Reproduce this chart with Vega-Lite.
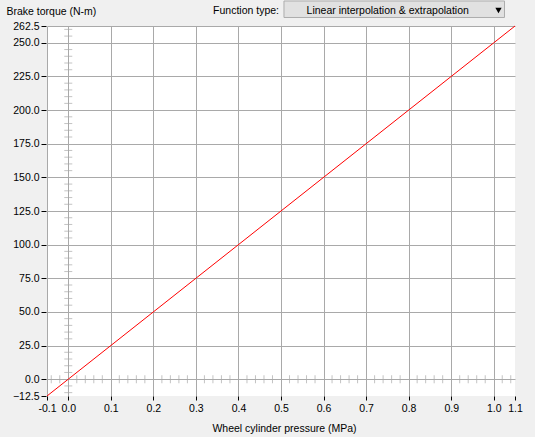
{
  "$schema": "https://vega.github.io/schema/vega-lite/v6.json",
  "width": 468,
  "height": 370,
  "autosize": {"type": "none"},
  "padding": {"left": 47, "top": 26, "right": 20, "bottom": 41},
  "background": "#f0f0f0",
  "config": {
    "view": {"fill": "white", "stroke": null},
    "font": "Liberation Sans",
    "axis": {
      "labelFont": "Liberation Sans",
      "labelFontSize": 10.5,
      "labelColor": "#000000",
      "titleFont": "Liberation Sans",
      "titleFontSize": 10.5,
      "titleFontWeight": "normal",
      "titleColor": "#000000",
      "tickColor": "#000000",
      "gridColor": "#a9a9a9",
      "domain": false,
      "labelFlush": false,
      "labelOverlap": false
    }
  },
  "resolve": {"axis": {"x": "independent", "y": "independent"}},
  "datasets": {
    "line": [
      {"P": -0.05, "T": -12.5},
      {"P": 0.0, "T": 0.0},
      {"P": 1.0, "T": 250.0},
      {"P": 1.05, "T": 262.5}
    ],
    "yminor": [
      {"v": -10}, {"v": -5}, {"v": 5}, {"v": 10}, {"v": 15}, {"v": 20},
      {"v": 30}, {"v": 35}, {"v": 40}, {"v": 45},
      {"v": 55}, {"v": 60}, {"v": 65}, {"v": 70},
      {"v": 80}, {"v": 85}, {"v": 90}, {"v": 95},
      {"v": 105}, {"v": 110}, {"v": 115}, {"v": 120},
      {"v": 130}, {"v": 135}, {"v": 140}, {"v": 145},
      {"v": 155}, {"v": 160}, {"v": 165}, {"v": 170},
      {"v": 180}, {"v": 185}, {"v": 190}, {"v": 195},
      {"v": 205}, {"v": 210}, {"v": 215}, {"v": 220},
      {"v": 230}, {"v": 235}, {"v": 240}, {"v": 245},
      {"v": 255}, {"v": 260}
    ],
    "xminor": [
      {"v": -0.04}, {"v": -0.02}, {"v": 0.02}, {"v": 0.04}, {"v": 0.06}, {"v": 0.08},
      {"v": 0.12}, {"v": 0.14}, {"v": 0.16}, {"v": 0.18},
      {"v": 0.22}, {"v": 0.24}, {"v": 0.26}, {"v": 0.28},
      {"v": 0.32}, {"v": 0.34}, {"v": 0.36}, {"v": 0.38},
      {"v": 0.42}, {"v": 0.44}, {"v": 0.46}, {"v": 0.48},
      {"v": 0.52}, {"v": 0.54}, {"v": 0.56}, {"v": 0.58},
      {"v": 0.62}, {"v": 0.64}, {"v": 0.66}, {"v": 0.68},
      {"v": 0.72}, {"v": 0.74}, {"v": 0.76}, {"v": 0.78},
      {"v": 0.82}, {"v": 0.84}, {"v": 0.86}, {"v": 0.88},
      {"v": 0.92}, {"v": 0.94}, {"v": 0.96}, {"v": 0.98},
      {"v": 1.02}, {"v": 1.04}
    ],
    "header": [{"label": "Function type:", "choice": "Linear interpolation & extrapolation"}]
  },
  "layer": [
    {
      "data": {"name": "line"},
      "mark": {"type": "line", "color": "#ff0000", "strokeWidth": 1},
      "encoding": {
        "x": {
          "field": "P", "type": "quantitative",
          "scale": {"domain": [-0.05, 1.05], "nice": false, "zero": false},
          "axis": {
            "title": "Wheel cylinder pressure (MPa)",
            "values": [-0.05, 0, 0.1, 0.2, 0.3, 0.4, 0.5, 0.6, 0.7, 0.8, 0.9, 1.0, 1.05],
            "labelExpr": "datum.value < -0.04 ? '-0.1' : datum.value > 1.04 ? '1.1' : format(datum.value, '.1f')",
            "tickSize": 4,
            "labelPadding": 3,
            "gridOpacity": {"condition": {"test": "datum.value > 1.04", "value": 0}, "value": 1},
            "titleX": 237,
            "titleY": 35,
            "titleAlign": "center",
            "titleBaseline": "alphabetic"
          }
        },
        "y": {
          "field": "T", "type": "quantitative",
          "scale": {"domain": [-12.5, 262.5], "nice": false, "zero": false},
          "axis": {
            "title": "Brake torque (N-m)",
            "values": [-12.5, 0, 25, 50, 75, 100, 125, 150, 175, 200, 225, 250, 262.5],
            "labelExpr": "format(datum.value, '.1f')",
            "tickSize": 5,
            "offset": 1,
            "labelPadding": 2,
            "gridOpacity": {"condition": {"test": "datum.value < -12", "value": 0}, "value": 1},
            "titleAngle": 0,
            "titleAlign": "left",
            "titleBaseline": "alphabetic",
            "titleX": -40,
            "titleY": -12
          }
        }
      }
    },
    {
      "data": {"name": "yminor"},
      "mark": {"type": "tick", "orient": "horizontal", "size": 8, "thickness": 1, "color": "#a9a9a9"},
      "encoding": {
        "y": {"field": "v", "type": "quantitative", "scale": {"domain": [-12.5, 262.5], "nice": false, "zero": false}, "axis": null},
        "x": {"datum": 0, "type": "quantitative", "scale": {"domain": [-0.05, 1.05], "nice": false, "zero": false}, "axis": null}
      }
    },
    {
      "data": {"name": "xminor"},
      "mark": {"type": "tick", "orient": "vertical", "size": 8, "thickness": 1, "color": "#a9a9a9"},
      "encoding": {
        "x": {"field": "v", "type": "quantitative", "scale": {"domain": [-0.05, 1.05], "nice": false, "zero": false}, "axis": null},
        "y": {"datum": 0, "type": "quantitative", "scale": {"domain": [-12.5, 262.5], "nice": false, "zero": false}, "axis": null}
      }
    },
    {
      "data": {"name": "header"},
      "mark": {"type": "rect", "fill": "#e1e1e1", "stroke": "#adadad", "strokeWidth": 1, "clip": false},
      "encoding": {
        "x": {"datum": 0.507, "type": "quantitative", "axis": null},
        "x2": {"datum": 1.0253},
        "y": {"datum": 281.08, "type": "quantitative", "axis": null},
        "y2": {"datum": 268.82}
      }
    },
    {
      "data": {"name": "header"},
      "mark": {"type": "text", "align": "right", "baseline": "alphabetic", "fontSize": 10.5, "color": "#000000", "font": "Liberation Sans"},
      "encoding": {
        "text": {"field": "label"},
        "x": {"datum": 0.4953, "type": "quantitative", "axis": null},
        "y": {"datum": 271.42, "type": "quantitative", "axis": null}
      }
    },
    {
      "data": {"name": "header"},
      "mark": {"type": "text", "align": "center", "baseline": "alphabetic", "fontSize": 10.5, "color": "#000000", "font": "Liberation Sans"},
      "encoding": {
        "text": {"field": "choice"},
        "x": {"datum": 0.7508, "type": "quantitative", "axis": null},
        "y": {"datum": 271.42, "type": "quantitative", "axis": null}
      }
    },
    {
      "data": {"name": "header"},
      "mark": {"type": "point", "shape": "triangle-down", "filled": true, "color": "#000000", "size": 40, "opacity": 1},
      "encoding": {
        "x": {"datum": 1.0112, "type": "quantitative", "axis": null},
        "y": {"datum": 274.02, "type": "quantitative", "axis": null}
      }
    }
  ]
}
